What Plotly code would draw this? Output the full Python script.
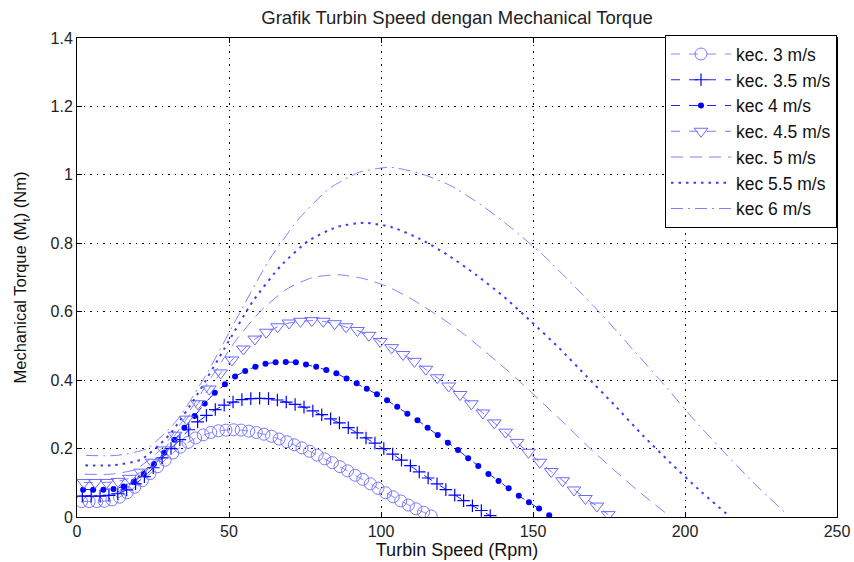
import plotly.graph_objects as go

# ---- data ----
x_3 = [1.5, 4, 6.5, 9, 11.5, 14, 16.5, 19, 21.5, 24, 26.5, 29, 31.5, 34, 36.5, 39, 41.5, 44, 46.5, 49,
       51.5, 54, 56.5, 59, 61.5, 64, 66.5, 69, 71.5, 74, 76.5, 79, 81.5, 84, 86.5, 89, 91.5, 94, 96.5, 99,
       101.5, 104, 106.5, 109, 111.5, 114, 116.5]
y_3 = [0.045, 0.045, 0.045, 0.046, 0.050, 0.058, 0.071, 0.087, 0.106, 0.127, 0.147, 0.166, 0.187, 0.204,
       0.218, 0.231, 0.240, 0.247, 0.252, 0.254, 0.255, 0.254, 0.251, 0.247, 0.242, 0.236, 0.228, 0.220,
       0.211, 0.202, 0.192, 0.181, 0.170, 0.159, 0.147, 0.135, 0.122, 0.110, 0.097, 0.084, 0.071, 0.059,
       0.047, 0.035, 0.024, 0.014, 0.003]

x_35 = [1.75, 4.67, 7.58, 10.5, 13.42, 16.33, 19.25, 22.17, 25.08, 28.0, 30.92, 33.83, 36.75, 39.67, 42.58,
        45.5, 48.42, 51.33, 54.25, 57.17, 60.08, 63.0, 65.92, 68.83, 71.75, 74.67, 77.58, 80.5, 83.42, 86.33,
        89.25, 92.17, 95.08, 98.0, 100.92, 103.83, 106.75, 109.67, 112.58, 115.5, 118.42, 121.33, 124.25,
        127.17, 130.08, 133.0, 135.92]
y_35 = [0.061, 0.061, 0.061, 0.063, 0.068, 0.079, 0.097, 0.118, 0.144, 0.173, 0.200, 0.226, 0.255, 0.278,
        0.297, 0.314, 0.327, 0.336, 0.343, 0.346, 0.347, 0.346, 0.342, 0.336, 0.329, 0.321, 0.310, 0.299,
        0.287, 0.275, 0.261, 0.246, 0.231, 0.216, 0.200, 0.184, 0.166, 0.150, 0.132, 0.114, 0.097, 0.080,
        0.064, 0.048, 0.033, 0.019, 0.004]

x_4 = [2, 5.33, 8.67, 12, 15.33, 18.67, 22, 25.33, 28.67, 32, 35.33, 38.67, 42, 45.33, 48.67, 52, 55.33,
       58.67, 62, 65.33, 68.67, 72, 75.33, 78.67, 82, 85.33, 88.67, 92, 95.33, 98.67, 102, 105.33, 108.67,
       112, 115.33, 118.67, 122, 125.33, 128.67, 132, 135.33, 138.67, 142, 145.33, 148.67, 152, 155.33]
y_4 = [0.080, 0.080, 0.080, 0.082, 0.089, 0.103, 0.126, 0.155, 0.188, 0.226, 0.261, 0.295, 0.332, 0.363,
       0.388, 0.411, 0.427, 0.439, 0.448, 0.452, 0.453, 0.452, 0.446, 0.439, 0.430, 0.420, 0.405, 0.391,
       0.375, 0.359, 0.341, 0.322, 0.302, 0.283, 0.261, 0.240, 0.217, 0.196, 0.172, 0.149, 0.126, 0.105,
       0.084, 0.062, 0.043, 0.025, 0.005]

x_45 = [2.25, 6, 9.75, 13.5, 17.25, 21, 24.75, 28.5, 32.25, 36, 39.75, 43.5, 47.25, 51, 54.75, 58.5, 62.25,
        66, 69.75, 73.5, 77.25, 81, 84.75, 88.5, 92.25, 96, 99.75, 103.5, 107.25, 111, 114.75, 118.5, 122.25,
        126, 129.75, 133.5, 137.25, 141, 144.75, 148.5, 152.25, 156, 159.75, 163.5, 167.25, 171, 174.75]
y_45 = [0.101, 0.101, 0.101, 0.104, 0.113, 0.131, 0.160, 0.196, 0.239, 0.286, 0.331, 0.374, 0.421, 0.459,
        0.491, 0.520, 0.540, 0.556, 0.567, 0.572, 0.574, 0.572, 0.565, 0.556, 0.545, 0.531, 0.513, 0.495,
        0.475, 0.455, 0.432, 0.407, 0.383, 0.358, 0.331, 0.304, 0.275, 0.248, 0.218, 0.189, 0.160, 0.133,
        0.106, 0.079, 0.054, 0.032, 0.007]

x_5 = [2.5, 10.83, 19.17, 27.5, 35.83, 44.17, 52.5, 60.83, 69.17, 77.5, 85.83, 94.17, 102.5, 110.83, 119.17,
       127.5, 135.83, 144.17, 152.5, 160.83, 169.17, 177.5, 185.83, 194.17]
y_5 = [0.125, 0.125, 0.139, 0.197, 0.294, 0.408, 0.519, 0.606, 0.667, 0.700, 0.708, 0.697, 0.672, 0.633,
       0.586, 0.533, 0.472, 0.408, 0.339, 0.269, 0.197, 0.131, 0.067, 0.008]

x_55 = [2.75, 11.92, 21.08, 30.25, 39.42, 48.58, 57.75, 66.92, 76.08, 85.25, 94.42, 103.58, 112.75, 121.92,
        131.08, 140.25, 149.42, 158.58, 167.75, 176.92, 186.08, 195.25, 204.42, 213.58]
y_55 = [0.151, 0.151, 0.168, 0.239, 0.356, 0.494, 0.629, 0.733, 0.807, 0.847, 0.860, 0.847, 0.813, 0.766,
        0.709, 0.645, 0.571, 0.494, 0.410, 0.326, 0.239, 0.158, 0.081, 0.010]

x_6 = [3, 13, 23, 33, 43, 53, 63, 73, 83, 93, 103, 113, 123, 133, 143, 153, 163, 173, 183, 193, 203, 213,
       223, 233]
y_6 = [0.180, 0.180, 0.200, 0.284, 0.424, 0.588, 0.748, 0.872, 0.960, 1.008, 1.022, 1.004, 0.968, 0.912,
       0.844, 0.768, 0.680, 0.588, 0.488, 0.388, 0.284, 0.188, 0.096, 0.012]

names = ["kec. 3 m/s", "kec. 3.5 m/s", "kec 4 m/s", "kec. 4.5 m/s", "kec. 5 m/s", "kec 5.5 m/s", "kec 6 m/s"]
x_ticks = [0, 50, 100, 150, 200, 250]
y_ticks = [0, 0.2, 0.4, 0.6, 0.8, 1, 1.2, 1.4]
y_tick_text = ["0", "0.2", "0.4", "0.6", "0.8", "1", "1.2", "1.4"]

FONT = "Liberation Sans, Arial, sans-serif"

fig = go.Figure()

fig.add_trace(go.Scatter(x=x_3, y=y_3, name=names[0], mode="lines+markers",
                         line=dict(color="#8a8aff", width=1, dash="dash"),
                         marker=dict(symbol="circle-open", size=12, color="#7a7aff", line=dict(width=1))))
fig.add_trace(go.Scatter(x=x_35, y=y_35, name=names[1], mode="lines+markers",
                         line=dict(color="#2020ff", width=1, dash="dash"),
                         marker=dict(symbol="cross-thin-open", size=9, color="#0000ff", line=dict(width=1.2))))
fig.add_trace(go.Scatter(x=x_4, y=y_4, name=names[2], mode="lines+markers",
                         line=dict(color="#2020ff", width=1, dash="dash"),
                         marker=dict(symbol="circle", size=6, color="#0000ff")))
fig.add_trace(go.Scatter(x=x_45, y=y_45, name=names[3], mode="lines+markers",
                         line=dict(color="#7a7aff", width=1, dash="dash"),
                         marker=dict(symbol="triangle-down-open", size=12, color="#6a6aff", line=dict(width=1))))
fig.add_trace(go.Scatter(x=x_5, y=y_5, name=names[4], mode="lines",
                         line=dict(color="#8080ff", width=1, dash="12px,7px", shape="spline", smoothing=0.6)))
fig.add_trace(go.Scatter(x=x_55, y=y_55, name=names[5], mode="lines",
                         line=dict(color="#3a3aff", width=2, dash="2.5px,5px", shape="spline", smoothing=0.6)))
fig.add_trace(go.Scatter(x=x_6, y=y_6, name=names[6], mode="lines",
                         line=dict(color="#8080ff", width=1, dash="12px,5px,2px,5px", shape="spline", smoothing=0.6)))

axis_common = dict(showline=True, linecolor="black", linewidth=1, mirror="ticks",
                   ticks="inside", ticklen=5, tickcolor="black",
                   showgrid=True, gridcolor="black", griddash="1.5px,5px", gridwidth=1,
                   zeroline=False, tickfont=dict(family=FONT, size=16, color="#222"))

fig.update_layout(
    width=854, height=562,
    margin=dict(l=77, r=17, t=38, b=45, autoexpand=False),
    paper_bgcolor="white", plot_bgcolor="white",
    title=dict(text="Grafik Turbin Speed dengan Mechanical Torque", x=0.5, xref="paper", xanchor="center",
               y=0.968, yanchor="middle", font=dict(family=FONT, size=18.5, color="#222")),
    xaxis=dict(range=[0, 250], tickvals=x_ticks,
               title=dict(text="Turbin Speed (Rpm)", font=dict(family=FONT, size=18, color="#111"), standoff=1),
               **axis_common),
    yaxis=dict(range=[0, 1.4], tickvals=y_ticks, ticktext=y_tick_text,
               title=dict(text="Mechanical Torque (M<sub>t</sub>) (Nm)", font=dict(family=FONT, size=16.5, color="#111"), standoff=19),
               **axis_common),
    legend=dict(x=1, y=1.006, xanchor="right", yanchor="top", bgcolor="white",
                bordercolor="black", borderwidth=1, font=dict(family=FONT, size=17.5, color="#111"),
                tracegroupgap=0, itemwidth=60),
    showlegend=True,
)

fig.write_html("out.html")
